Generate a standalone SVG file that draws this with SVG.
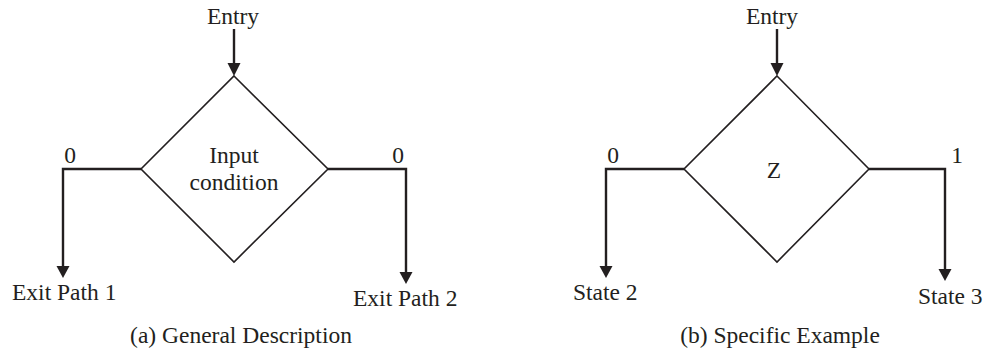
<svg xmlns="http://www.w3.org/2000/svg" width="984" height="353" viewBox="0 0 984 353">
<style>
text{font-family:"Liberation Serif","Times New Roman",serif;font-size:23.5px;fill:#231f20;}
.c{text-anchor:middle;}
.d{fill:#fff;stroke:#231f20;stroke-width:1.6;}
.w{fill:none;stroke:#231f20;stroke-width:2.4;}
.h{fill:#231f20;}
</style>
<rect width="984" height="353" fill="#fff"/>
<g id="connectors">
<path class="w" d="M234,29 V64"/><polygon class="h" points="227.5,63 240.5,63 234,76"/>
<path class="w" d="M141,169 H63 V268"/><polygon class="h" points="56.5,266 69.5,266 63,278"/>
<path class="w" d="M328,169 H406 V274"/><polygon class="h" points="399.5,272 412.5,272 406,284"/>
<path class="w" d="M777,29 V64"/><polygon class="h" points="770.5,63 783.5,63 777,76"/>
<path class="w" d="M684,169 H606 V268"/><polygon class="h" points="599.5,266 612.5,266 606,278"/>
<path class="w" d="M869,169 H945 V271"/><polygon class="h" points="938.5,269 951.5,269 945,281"/>
</g>
<g id="entry-a"><text class="c" x="233" y="24">Entry</text></g>
<g id="decision-a"><polygon class="d" points="234,76 328,169 234,262 141,169"/>
<text class="c" x="234" y="163">Input</text><text class="c" x="234" y="190">condition</text></g>
<g id="label-a0l"><text class="c" x="70" y="163">0</text></g>
<g id="label-a0r"><text class="c" x="398" y="163">0</text></g>
<g id="exit1"><text x="12" y="300">Exit Path 1</text></g>
<g id="exit2"><text x="353" y="306">Exit Path 2</text></g>
<g id="caption-a"><text class="c" x="241" y="343">(a) General Description</text></g>
<g id="entry-b"><text class="c" x="772" y="24">Entry</text></g>
<g id="decision-b"><polygon class="d" points="777,76 869,169 777,262 684,169"/>
<text class="c" x="774" y="178">Z</text></g>
<g id="label-b0"><text class="c" x="613" y="163">0</text></g>
<g id="label-b1"><text class="c" x="957" y="163">1</text></g>
<g id="state2"><text x="573" y="300">State 2</text></g>
<g id="state3"><text x="918" y="304">State 3</text></g>
<g id="caption-b"><text class="c" x="780" y="343">(b) Specific Example</text></g>
</svg>
